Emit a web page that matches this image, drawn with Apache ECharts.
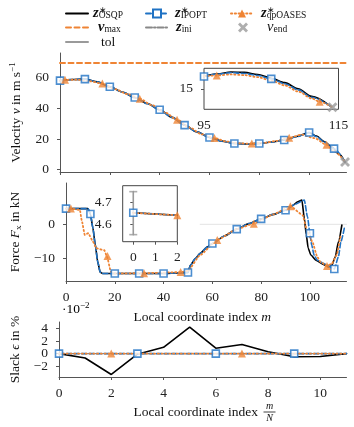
<!DOCTYPE html>
<html><head><meta charset="utf-8">
<script src="https://cdn.jsdelivr.net/npm/echarts@6/dist/echarts.min.js"></script>
<style>html,body{margin:0;padding:0;background:#fff}#c{width:354px;height:427px}</style>
</head><body><div id="c"></div>
<script>
// ---------- Velocity (main) ----------
const vOsqpX = [0,5,10,15,20,25,30,35,40,45,50,55,60,65,70,75,80,85,90,95,100,103,106,109,112,114.4];
const vOsqp  = [58,58.7,59,57.2,54,50.6,47,43.1,39,34.1,29,24.6,21,18.6,17.1,16.8,17.1,18,19.4,21.6,24.2,21.9,18.4,14.9,10.2,5];
const vIpoptX = [0,5,10,15,20,25,30,35,40,45,50,55,60,65,70,75,80,85,90,95,100,103,106,110,114.4];
const vIpopt  = [58,58.7,59,57.2,54,50.6,47,43.1,39,34.1,29,24.6,21,18.6,17.1,16.8,17.1,18,19.3,21.5,24.2,21.5,18,13.7,5];
const vIpoptMX = [0,10,20,30,40,50,60,70,80,90,100,110];
const vIpoptM  = [58,59,54,47,39,29,21,17.1,17.1,19.3,24.2,13.7];
const vQpX = [0,2,7,12,17,22,27,32,37,42,47,52,57,62,67,72,77,82,87,92,97,102,107,110,114.4];
const vQp  = [58,58.5,58.6,57.6,56.1,52.5,49.3,46.2,42,37.3,32.6,27.4,23,20.6,18.3,17.1,17,17.5,18.8,20.8,22.8,20.6,16.3,12,5];
const vQpMX = [2,17,32,47,62,77,92,107];
const vQpM  = [58.5,56.1,46.2,32.6,20.6,17,20.8,16.3];
const vmaxX = [0,115];
const vmaxY = [69.44,69.44];
const vEndX = [114.4];
const vEndY = [5];
const vTicks = [0,20,40,60];
const mTicks = [0,20,40,60,80,100];

// ---------- Velocity (inset) ----------
const iOsqpX = [95,97,99,101,103,105,107,109,111,113.9];
const iOsqp  = [16.8,17.2,17.45,17.4,17.1,16.55,15.9,15.0,13.9,12.4];
const iIpoptX = [95,97,99,101,103,105,107,109,111,113.9];
const iIpopt  = [16.8,17.15,17.35,17.25,16.95,16.45,15.75,14.85,13.75,12.4];
const iIpoptMX = [95,105];
const iIpoptM  = [16.8,16.45];
const iQpX = [95,96.9,99,101,103,105,107,109,111,112.2,114.1];
const iQp  = [16.85,16.95,17.1,17.0,16.7,16.2,15.5,14.6,13.6,13.1,12.3];
const iQpMX = [96.9,112.2];
const iQpM  = [16.95,13.1];
const iEndX = [114.1];
const iEndY = [12.3];
const iXTicks = [95,115];
const iYTicks = [15];

// ---------- Force (main) ----------
const fOsqpX = [0,9,10,11,12,13,14,15,20,30,40,50,51,53,55,58,60,65,70,75,80,85,90,93,95,96.7,97.7,98.5,99.3,100.4,102.4,105.7,107.7,109,110.4,111.7,113.1];
const fOsqp  = [4.6,4.6,3.0,-1,-6,-11,-14,-14.4,-14.4,-14.4,-14.4,-14.1,-12,-10,-8.5,-6.6,-5.6,-3.4,-1.4,0.2,1.6,2.9,4.2,5.6,6.6,7.1,1.8,-3,-7,-9,-10.5,-11.8,-12.5,-12,-9.5,-5.1,-0.2];
const fIpoptX = [0,9,10,11,12,13,14,15,20,30,40,50,51,53,55,58,60,65,70,75,80,85,90,94,97.7,99,100,100.7,101.7,103,105.7,109.7,110,111.7,112.7,114.2];
const fIpopt  = [4.6,4.6,3.0,-1,-6,-11,-14,-14.4,-14.4,-14.4,-14.4,-14.1,-12,-10,-8.5,-6.6,-5.6,-3.4,-1.4,0.2,1.6,2.9,4.1,5.9,7.1,2.2,-2.6,-6,-9,-10.5,-11.5,-12.9,-13.1,-9.5,-5.1,-0.8];
const fIpoptMX = [0,10,20,30,40,50,60,70,80,90,100,110];
const fIpoptM  = [4.6,3.0,-14.4,-14.4,-14.4,-14.1,-5.6,-1.4,1.6,4.1,-2.6,-13.1];
const fQpX = [0,2,5.7,6.4,7.7,9.1,11.1,12.4,15.7,16.8,18.4,20,32,47,50,55,62,70,77,85,92,97,99,101,103,104.3,107,109,111,112.7,113];
const fQp  = [4.6,4.6,4.2,1.3,-3.1,-2.6,-5.1,-7,-7.6,-9.5,-13.9,-14.4,-14.3,-14.0,-13.6,-9,-4.6,-1.4,0.2,2.9,5.3,2.7,-2.2,-5.1,-9.5,-11,-12.2,-11.5,-9,-3.3,-3.6];
const fQpMX = [2,17,32,47,62,77,92,107];
const fQpM  = [4.6,-9.3,-14.3,-14.0,-4.6,0.2,5.3,-12.2];
const fZeroX = [55,115];
const fZeroY = [0,0];
const fTicks = [-10,0];

// ---------- Force (inset) ----------
const fiX = [0,2];
const fiOsqp = [4.652,4.641];
const fiIpopt = [4.652,4.641];
const fiQp = [4.652,4.641];
const fiIpoptMX = [0];
const fiIpoptM = [4.652];
const fiQpMX = [2];
const fiQpM = [4.641];
const tolX = [0,0];
const tolY = [4.553,4.748];
const fiXTicks = [0,1,2];
const fiYTicks = [4.6,4.7];

// ---------- Slack ----------
const sX = [0,1,2,3,4,5,6,7,8,9,10,11];
const sOsqp = [0,-0.7,-3.3,-0.1,1.0,4.2,0.85,1.45,0.3,-0.5,-0.45,0];
const sIpopt = [0,0,0,0,0,0,0,0,0,0,0,0];
const sQp = [0,0,0,0,0,0,0,0,0,0,0,0];
const sIni = [0,0,0,0,0,0,0,0,0,0,0,0];
const sIpoptMX = [0,3,6,9];
const sIpoptM = [0,0,0,0];
const sQpMX = [2,7];
const sQpM = [0,0];
const sXTicks = [0,2,4,6,8,10];
const sYTicksA = [-2,2];
const sYTicksB = [0,4];

// ---------- styling ----------
const SERIF = 'Liberation Serif';
const FS = 13.5;
const BLUE = '#1f72c4', ORANGE = '#ef8434', GRAY = '#9a9a9a', AX = '#555';
const zip = (xs, ys) => xs.map((x, i) => [x, ys[i]]);
const minus = v => (v < 0 ? '\u2212' + Math.abs(v) : String(v));

const rich = {
  r:   {fontFamily: SERIF, fontSize: FS, lineHeight: 16, color: '#111'},
  i:   {fontFamily: SERIF, fontSize: FS, fontStyle: 'italic', lineHeight: 16, color: '#111'},
  sup: {fontFamily: SERIF, fontSize: 9, lineHeight: 9, verticalAlign: 'top', color: '#111'},
  sub: {fontFamily: SERIF, fontSize: 9, lineHeight: 9, verticalAlign: 'bottom', color: '#111'}
};
const lrich = {
  r:   {fontFamily: SERIF, fontSize: FS, lineHeight: 14, color: '#111'},
  i:   {fontFamily: SERIF, fontSize: 14.5, fontStyle: 'italic', lineHeight: 14, color: '#111'},
  b:   {fontFamily: SERIF, fontSize: 14.5, fontStyle: 'italic', fontWeight: 'bold', lineHeight: 14, color: '#111'},
  sup0:{fontFamily: SERIF, fontSize: 9, lineHeight: 6, verticalAlign: 'top', width: 0, color: '#111'},
  sub: {fontFamily: SERIF, fontSize: 9.5, lineHeight: 9, verticalAlign: 'bottom', color: '#111'},
  p5:  {width: 5}, p3: {width: 3}, p8: {width: 8}, p2: {width: 2}, p14: {width: 14}
};

const LEG = {
  'OSQP':    '{b|z}{sup0|\u2217}{sub|OSQP}',
  'IPOPT':   '{p2| }{b|z}{sup0|\u2217}{sub|IPOPT}',
  'qpOASES': '{p3| }{b|z}{sup0|\u2217}{sub|qpOASES}',
  'vmax':    '{p5| }{b|v}{sub|max}',
  'zini':    '{p3| }{b|z}{sub|ini}',
  'vend':    '{p14| }{i|v}{sub|end}',
  'tol':     '{p8| }{r|tol}'
};
function leg(name, left, top, extra) {
  return Object.assign({
    data: [name], left: left, top: top, padding: 0, itemWidth: 22, itemHeight: 10,
    selectedMode: false, formatter: () => LEG[name],
    textStyle: {rich: lrich, fontFamily: SERIF, fontSize: FS}
  }, extra || {});
}
const noSym = {itemStyle: {opacity: 0}};

function xAx(gi, min, max, ticks, showLabel, extra) {
  return Object.assign({
    type: 'value', gridIndex: gi, min: min, max: max,
    axisLine: {show: true, onZero: false, lineStyle: {color: AX, width: 1}},
    axisTick: {show: true, inside: false, length: 3, customValues: ticks, lineStyle: {color: AX}},
    axisLabel: {show: showLabel, customValues: ticks, formatter: minus, fontFamily: SERIF, fontSize: FS, color: '#222', margin: 9,
      hideOverlap: false, showMinLabel: true, showMaxLabel: true},
    splitLine: {show: false}
  }, extra || {});
}
function yAx(gi, min, max, ticks, extra) {
  return Object.assign({
    type: 'value', gridIndex: gi, min: min, max: max,
    axisLine: {show: true, onZero: false, lineStyle: {color: AX, width: 1}},
    axisTick: {show: true, inside: false, length: 3, customValues: ticks, lineStyle: {color: AX}},
    axisLabel: {show: true, customValues: ticks, formatter: minus, fontFamily: SERIF, fontSize: FS, lineHeight: 11, color: '#222', margin: 11,
      hideOverlap: false, showMinLabel: true, showMaxLabel: true},
    splitLine: {show: false}
  }, extra || {});
}
const yName = (txt) => ({name: txt, nameLocation: 'middle', nameRotate: 90, nameGap: 36,
  nameTextStyle: {rich: rich, fontFamily: SERIF, fontSize: FS, color: '#111'}});

function line(name, xi, xs, ys, color, type, width, z, extra) {
  return Object.assign({
    type: 'line', name: name, xAxisIndex: xi, yAxisIndex: xi, data: zip(xs, ys),
    symbol: 'none', showSymbol: false, smooth: 0.3, smoothMonotone: 'x',
    lineStyle: {color: color, type: type, width: width, cap: 'round'},
    itemStyle: {color: color}, z: z, silent: true, animation: false
  }, extra || {});
}
const rectStyle = {symbol: 'rect', symbolSize: 7, itemStyle: {color: '#fff', borderColor: BLUE, borderWidth: 1.6}};
const triStyle = {symbol: 'triangle', symbolSize: 8, itemStyle: {color: ORANGE}};
function marks(name, xi, xs, ys, st, z) {
  return Object.assign({type: 'scatter', name: name, xAxisIndex: xi, yAxisIndex: xi,
    data: zip(xs, ys), z: z, silent: true, animation: false}, JSON.parse(JSON.stringify(st)));
}
const XSYM = 'path://M2,0 L5,3 L8,0 L10,2 L7,5 L10,8 L8,10 L5,7 L2,10 L0,8 L3,5 L0,2 Z';

const DASH = [5, 2.5], DOT = [1.2, 2.6], DASHDOT = [6, 2, 1.5, 2];

const option = {
  animation: false,
  backgroundColor: '#fff',
  legend: [
    leg('OSQP', 65, 6, noSym),
    leg('IPOPT', 145, 6),
    leg('qpOASES', 230, 6),
    leg('vmax', 65, 20, noSym),
    leg('zini', 145, 20, noSym),
    leg('vend', 238, 20, {itemWidth: 10, itemHeight: 10}),
    leg('tol', 65, 35, noSym)
  ],
  grid: [
    {left: 59, top: 53, width: 287.5, height: 119},
    {left: 59, top: 183, width: 287.5, height: 98},
    {left: 59, top: 322, width: 287.5, height: 55},
    {left: 204, top: 68.3, width: 134.5, height: 41, show: true, backgroundColor: '#fff', borderColor: '#444', borderWidth: 1, z: 5},
    {left: 122.7, top: 185.7, width: 54.6, height: 56, show: true, backgroundColor: '#fff', borderColor: '#444', borderWidth: 1, z: 5}
  ],
  xAxis: [
    xAx(0, 0, 115, mTicks, false),
    xAx(1, 0, 115, mTicks, true, {name: '{r|Local coordinate index }{i|m}', nameLocation: 'middle', nameGap: 28,
      nameTextStyle: {rich: rich, fontFamily: SERIF, fontSize: FS, color: '#111', padding: [0, 8, 0, 0]}}),
    xAx(2, 0, 11, sXTicks, true),
    xAx(3, 95, 115, iXTicks, true, {z: 6, axisTick: {show: false}, axisLine: {show: false}}),
    xAx(4, -0.48, 2, fiXTicks, true, {z: 6, axisLine: {show: false}})
  ],
  yAxis: [
    yAx(0, -1.5, 76, vTicks, yName('{r|Velocity }{i|v}{r| in m s}{sup|\u22121}')),
    yAx(1, -16.6, 12.1, fTicks, yName('{r|Force }{i|F}{sub|x}{r| in kN}')),
    yAx(2, -3.7, 5.0, sYTicksA, yName('{r|Slack }{i|\u03f5}{r| in %}')),
    yAx(3, 12, 18, iYTicks, {z: 6, axisLine: {show: false}}),
    yAx(4, 4.521, 4.775, fiYTicks, {z: 6, axisLine: {show: false}}),
    yAx(2, -3.7, 5.0, sYTicksB, {position: 'left', offset: 0, axisLine: {show: false, onZero: false}})
  ],
  series: [
    // velocity
    line('vmax', 0, vmaxX, vmaxY, ORANGE, [5, 3.5], 2, 2, {smooth: false}),
    line('OSQP', 0, vOsqpX, vOsqp, '#000', 'solid', 1.6, 2),
    line('IPOPT', 0, vIpoptX, vIpopt, BLUE, DASH, 1.6, 3, {symbol: 'rect', itemStyle: {color: '#fff', borderColor: BLUE, borderWidth: 1.5}}),
    line('qpOASES', 0, vQpX, vQp, ORANGE, DOT, 1.8, 3, {symbol: 'triangle', itemStyle: {color: ORANGE}}),
    marks('vIpM', 0, vIpoptMX, vIpoptM, rectStyle, 4),
    marks('vQpM', 0, vQpMX, vQpM, triStyle, 4),
    {type: 'scatter', name: 'vend', xAxisIndex: 0, yAxisIndex: 0, data: zip(vEndX, vEndY), symbol: XSYM, symbolSize: 10,
      itemStyle: {color: GRAY}, z: 4, silent: true},
    // velocity inset
    line('iO', 3, iOsqpX, iOsqp, '#000', 'solid', 1.6, 7),
    line('iI', 3, iIpoptX, iIpopt, BLUE, DASH, 1.6, 7),
    line('iQ', 3, iQpX, iQp, ORANGE, DOT, 1.8, 7),
    marks('iIM', 3, iIpoptMX, iIpoptM, rectStyle, 8),
    marks('iQM', 3, iQpMX, iQpM, triStyle, 8),
    {type: 'scatter', name: 'iEnd', xAxisIndex: 3, yAxisIndex: 3, data: zip(iEndX, iEndY), symbol: XSYM, symbolSize: 10,
      itemStyle: {color: GRAY}, z: 8, silent: true},
    // force
    line('fZero', 1, fZeroX, fZeroY, '#e3e3e3', 'solid', 1, 1, {smooth: false}),
    line('fO', 1, fOsqpX, fOsqp, '#000', 'solid', 1.6, 2, {smooth: 0.2}),
    line('fI', 1, fIpoptX, fIpopt, BLUE, DASH, 1.6, 3, {smooth: 0.2}),
    line('fQ', 1, fQpX, fQp, ORANGE, DOT, 1.8, 3, {smooth: 0.15}),
    marks('fIM', 1, fIpoptMX, fIpoptM, rectStyle, 4),
    marks('fQM', 1, fQpMX, fQpM, triStyle, 4),
    // force inset
    line('tol', 4, tolX, tolY, GRAY, 'solid', 1.6, 7, {smooth: false}),
    {type: 'scatter', name: 'tolCaps', xAxisIndex: 4, yAxisIndex: 4, data: zip(tolX, tolY), symbol: 'rect', symbolSize: [8, 1.6],
      itemStyle: {color: GRAY}, z: 7, silent: true},
    line('fiO', 4, fiX, fiOsqp, '#000', 'solid', 1.6, 7, {smooth: false}),
    line('fiI', 4, fiX, fiIpopt, BLUE, DASH, 1.6, 7, {smooth: false}),
    line('fiQ', 4, fiX, fiQp, ORANGE, DOT, 1.8, 7, {smooth: false}),
    marks('fiIM', 4, fiIpoptMX, fiIpoptM, rectStyle, 8),
    marks('fiQM', 4, fiQpMX, fiQpM, triStyle, 8),
    // slack
    line('zini', 2, sX, sIni, '#888', DASHDOT, 1.4, 2, {smooth: false}),
    line('sO', 2, sX, sOsqp, '#000', 'solid', 1.6, 3, {smooth: false}),
    line('sI', 2, sX, sIpopt, BLUE, DASH, 1.6, 3, {smooth: false}),
    line('sQ', 2, sX, sQp, ORANGE, DOT, 1.8, 3, {smooth: false}),
    marks('sIM', 2, sIpoptMX, sIpoptM, rectStyle, 4),
    marks('sQM', 2, sQpMX, sQpM, triStyle, 4)
  ],
  graphic: [
    {type: 'text', left: 62, top: 301, style: {rich: rich, text: '{r|\u00b710}{sup|\u22122}', fontFamily: SERIF, fontSize: FS}},
    {type: 'text', x: 258, y: 412, style: {text: 'Local coordinate index', fontFamily: SERIF, fontSize: FS, fill: '#111', align: 'right', verticalAlign: 'middle'}},
    {type: 'text', x: 269.5, y: 406.5, style: {text: 'm', fontFamily: SERIF, fontSize: 10, fontStyle: 'italic', fill: '#111', align: 'center', verticalAlign: 'middle'}},
    {type: 'line', shape: {x1: 263.5, y1: 412, x2: 275.5, y2: 412}, style: {stroke: '#111', lineWidth: 0.8}},
    {type: 'text', x: 269.5, y: 418.5, style: {text: 'N', fontFamily: SERIF, fontSize: 10, fontStyle: 'italic', fill: '#111', align: 'center', verticalAlign: 'middle'}}
  ]
};
const chart = echarts.init(document.getElementById('c'), null, {renderer: 'canvas'});
chart.setOption(option);
</script>
</body></html>
